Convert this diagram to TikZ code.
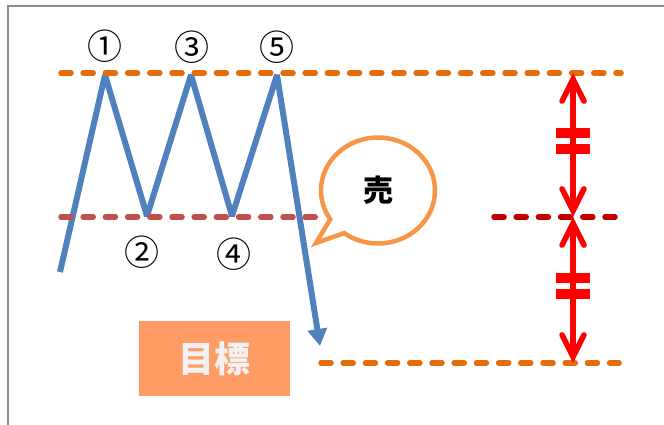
\documentclass[tikz,border=0pt]{standalone}
\usepackage{fontspec}
\newfontfamily\jp{Noto Sans CJK JP}
\usetikzlibrary{arrows.meta,calc}
\definecolor{lineorange}{HTML}{E46C0A}
\definecolor{linebrown}{HTML}{C0504D}
\definecolor{linedark}{HTML}{C00000}
\definecolor{zigblue}{HTML}{4F81BD}
\definecolor{bubbleorange}{HTML}{F79646}
\definecolor{targetfill}{HTML}{FF9C66}
\definecolor{targettext}{HTML}{F2F2F2}
\definecolor{framegray}{HTML}{8C8C8C}
\tikzset{
  dashline/.style={line width=5.5pt, line cap=round, dash pattern=on 10pt off 12.2pt},
  zigzag/.style={draw=zigblue, line width=6pt, line join=bevel, -{Triangle[length=17pt,width=19pt]}},
  measure/.style={draw=red, line width=5.5pt, {Straight Barb[length=22pt,width=22pt,line cap=round]}-{Straight Barb[length=22pt,width=22pt,line cap=round]}},
  tick/.style={fill=red, draw=none},
  numlabel/.style={font=\jp\fontsize{35}{35}\selectfont, inner sep=0pt},
  bubble/.style={draw=bubbleorange, fill=white, line width=4.5pt, line join=miter},
  target/.style={fill=targetfill, minimum width=151pt, minimum height=75pt, inner sep=0pt,
                 text=targettext, font=\jp\bfseries\fontsize{36}{36}\selectfont}
}
\begin{document}
\begin{tikzpicture}[x=1pt,y=-1pt]
\useasboundingbox (0,0) rectangle (664,425);
\begin{scope}
  \clip (0,0) rectangle (664,425);
  \draw[framegray, line width=2pt] (7.5,6) rectangle (700,460);
\end{scope}

% zigzag points
\coordinate (s) at (60,272);
\coordinate (p1) at (105,75);
\coordinate (v2) at (147,216);
\coordinate (p3) at (191,75);
\coordinate (v4) at (232,216);
\coordinate (p5) at (277,75);
\coordinate (t) at (320,346);
\draw[zigzag] (s) -- (p1) -- (v2) -- (p3) -- (v4) -- (p5) -- (t);

% dashed levels
\coordinate (topL) at (61,73);   \coordinate (topR) at (621,73);
\coordinate (midL) at (61,217);  \coordinate (midR) at (326,217);
\coordinate (midL2) at (494,217); \coordinate (midR2) at (623,217);
\coordinate (botL) at (321,363); \coordinate (botR) at (619,363);
\draw[dashline, lineorange] (topL) -- (topR);
\draw[dashline, linebrown] (midL) -- (midR);
\draw[dashline, linedark] (midL2) -- (midR2);
\draw[dashline, lineorange] (botL) -- (botR);

% labels
\node[numlabel] (n1) at (105,46) {①};
\node[numlabel] (n3) at (191.5,47) {③};
\node[numlabel] (n5) at (277,47) {⑤};
\node[numlabel] (n2) at (142,252) {②};
\node[numlabel] (n4) at (234,254) {④};

% speech bubble
\coordinate (c) at (378,190.5);
\coordinate (tail) at (316,243);
\draw[bubble] (tail) -- ($(c)+(147:57 and 53)$) arc[start angle=147, end angle=486.5, x radius=57, y radius=53] -- cycle;
\node[font=\jp\bfseries\fontsize{30}{30}\selectfont, inner sep=0pt] (sell) at (c) {売};

% target box
\node[target] (goal) at (214.5,358.5) {目標};

% measurement arrows
\coordinate (a1) at (573,73);
\coordinate (a2) at (573,217);
\coordinate (a3) at (573,363);
\draw[measure] (a1) -- (a2);
\draw[measure] (a2) -- (a3);
\fill[tick] (556,128) rectangle (590,138);
\fill[tick] (556,144) rectangle (590,154);
\fill[tick] (556,273) rectangle (590,283);
\fill[tick] (556,289) rectangle (590,299);
\end{tikzpicture}
\end{document}
